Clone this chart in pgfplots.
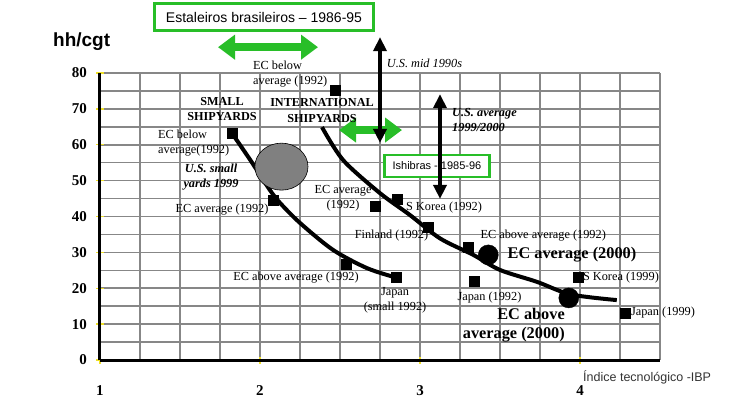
\documentclass[border=0pt]{standalone}
\usepackage{fontspec}
\setmainfont{Liberation Serif}
\newfontfamily\arial{Liberation Sans}
\usepackage{pgfplots}
\pgfplotsset{compat=1.18}
\usetikzlibrary{arrows.meta}

\definecolor{brgreen}{RGB}{40,190,40}
\definecolor{gridgray}{RGB}{135,135,135}
\definecolor{tickyellow}{RGB}{240,225,40}

\newcommand\labfont{\fontsize{12.3}{15}\selectfont}
\newcommand\boldlab{\fontsize{12.2}{15.5}\selectfont\bfseries}
\newcommand\bigbold{\fontsize{16.3}{19}\selectfont\bfseries}

\begin{document}
\begin{tikzpicture}[x=1pt,y=1pt]
\path[use as bounding box] (0,0) rectangle (740,413);
\begin{axis}[
  at={(100pt,53pt)}, anchor=south west,
  scale only axis, width=560pt, height=287pt,
  xmin=1, xmax=4.5, ymin=0, ymax=80,
  xtick={1,2,3,4}, ytick={0,10,...,80},
  minor xtick={1,1.25,...,4.5}, minor ytick={0,5,...,80},
  grid=both,
  major grid style={gridgray, line width=1.6pt},
  minor grid style={gridgray, line width=1.6pt},
  axis x line*=bottom, axis y line*=left,
  axis line style={black, line width=3pt},
  tick align=center, major tick length=7pt, minor tick length=0pt,
  major tick style={tickyellow, line width=1.5pt},
  ticklabel style={font=\fontsize{15}{18}\selectfont\bfseries},
  /pgf/number format/assume math mode=true,
  xticklabel style={yshift=-19pt},
  yticklabel style={xshift=-6pt},
  clip=false,
]
% U.S. small yards 1999
\addplot[only marks, mark=*, mark size=23.5pt,
  mark options={fill=gray, draw=black, line width=0.6pt, xscale=1.13}]
  coordinates {(2.134,53.9)};

% small shipyards curve
\addplot[black, line width=4pt, smooth] coordinates {
  (1.825,63.2) (1.94,55.7) (2.06,47.5) (2.125,43.8) (2.25,38.2)
  (2.456,30.7) (2.669,25.6) (2.856,22.9)};
% international shipyards curve
\addplot[black, line width=4pt, smooth] coordinates {
  (2.3875,64.9) (2.52,55.7) (2.75,46.5) (2.9375,40.4) (3.125,33.9)
  (3.333,29.3) (3.5,25.1) (3.73,21.8) (3.94,18.3) (4.23,16.7)};

% 1992 / 1999 observations
\addplot[only marks, mark=square*, mark size=5pt, black] coordinates {
  (1.825,63.2) (2.08,44.6) (2.54,26.7) (2.85,23.0)
  (2.469,75.3) (2.72,42.9) (2.86,44.8) (3.05,37.1)
  (3.30,31.5) (3.34,22.0) (3.99,23.1) (4.28,13.1)};
% EC 2000
\addplot[only marks, mark=*, mark size=10pt, black] coordinates {
  (3.427,29.3) (3.93,17.3)};

% green boxes and arrows
\node[draw=brgreen, line width=3pt, fill=white, minimum width=219pt,
  minimum height=27pt, inner sep=0, font=\arial\fontsize{14}{16}\selectfont]
  at (2.025,95.6) {Estaleiros brasileiros – 1986-95};
\node[draw=brgreen, line width=2.5pt, fill=white, minimum width=105pt,
  minimum height=22pt, inner sep=0, font=\arial\fontsize{11}{13}\selectfont]
  at (3.106,54.1) {Ishibras - 1985-96};
\draw[brgreen, line width=8pt,
  {Triangle[width=24pt,length=17pt]}-{Triangle[width=24pt,length=17pt]}]
  (1.7375,87.2) -- (2.3625,87.2);
\draw[brgreen, line width=8pt,
  {Triangle[width=24pt,length=17pt]}-{Triangle[width=24pt,length=17pt]}]
  (2.494,64.1) -- (2.8875,64.1);

% U.S. ranges
\draw[black, line width=3.5pt,
  {Triangle[width=13pt,length=14pt]}-{Triangle[width=13pt,length=14pt]}]
  (2.75,90.0) -- (2.75,60.5);
\draw[black, line width=3.5pt,
  {Triangle[width=13pt,length=14pt]}-{Triangle[width=13pt,length=14pt]}]
  (3.125,74.1) -- (3.125,44.9);

% labels
\node[font=\labfont\itshape, inner sep=0] at (3.028,82.6) {U.S. mid 1990s};
\node[font=\labfont\itshape\bfseries, align=left, anchor=west, inner sep=0]
  at (3.2,66.9) {U.S. average\\1999/2000};
\node[font=\labfont, align=left, anchor=west, inner sep=0]
  at (1.956,79.7) {EC below\\average (1992)};
\node[font=\boldlab, align=center, inner sep=0] at (1.7625,69.9) {SMALL\\SHIPYARDS};
\node[font=\boldlab, align=center, inner sep=0] at (2.3875,69.5) {INTERNATIONAL\\SHIPYARDS};
\node[font=\labfont, align=left, anchor=west, inner sep=0]
  at (1.3625,60.5) {EC below\\average(1992)};
\node[font=\labfont\itshape\bfseries, align=center, inner sep=0]
  at (1.694,51.0) {U.S. small\\yards 1999};
\node[font=\labfont, inner sep=0] at (1.7625,41.8) {EC average (1992)};
\node[font=\labfont, align=center, inner sep=0] at (2.519,45.0) {EC average\\(1992)};
\node[font=\labfont, inner sep=0] at (3.15,42.6) {S Korea (1992)};
\node[font=\labfont, inner sep=0] at (2.822,34.8) {Finland (1992)};
\node[font=\labfont, inner sep=0] at (2.225,22.9) {EC above average (1992)};
\node[font=\labfont, align=center, inner sep=0] at (2.844,16.7) {Japan\\(small 1992)};
\node[font=\labfont, inner sep=0] at (3.77,34.6) {EC above average (1992)};
\node[font=\bigbold, inner sep=0] at (3.95,29.3) {EC average (2000)};
\node[font=\labfont, inner sep=0] at (3.434,17.3) {Japan (1992)};
\node[font=\labfont, inner sep=0] at (4.256,22.9) {S Korea (1999)};
\node[font=\bigbold, align=right, anchor=east, inner sep=0]
  at (3.906,9.6) {EC above\\average (2000)};
\node[font=\labfont, inner sep=0] at (4.519,13.1) {Japan (1999)};

\node[anchor=base west, font=\arial\bfseries\fontsize{19}{22}\selectfont, inner sep=0]
  at (0.706,87.3) {hh/cgt};
\node[anchor=base west, font=\arial\fontsize{12.5}{15}\selectfont, text=black!80, inner sep=0]
  at (4.019,-6.13) {Índice tecnológico -IBP};
\end{axis}
\end{tikzpicture}
\end{document}
